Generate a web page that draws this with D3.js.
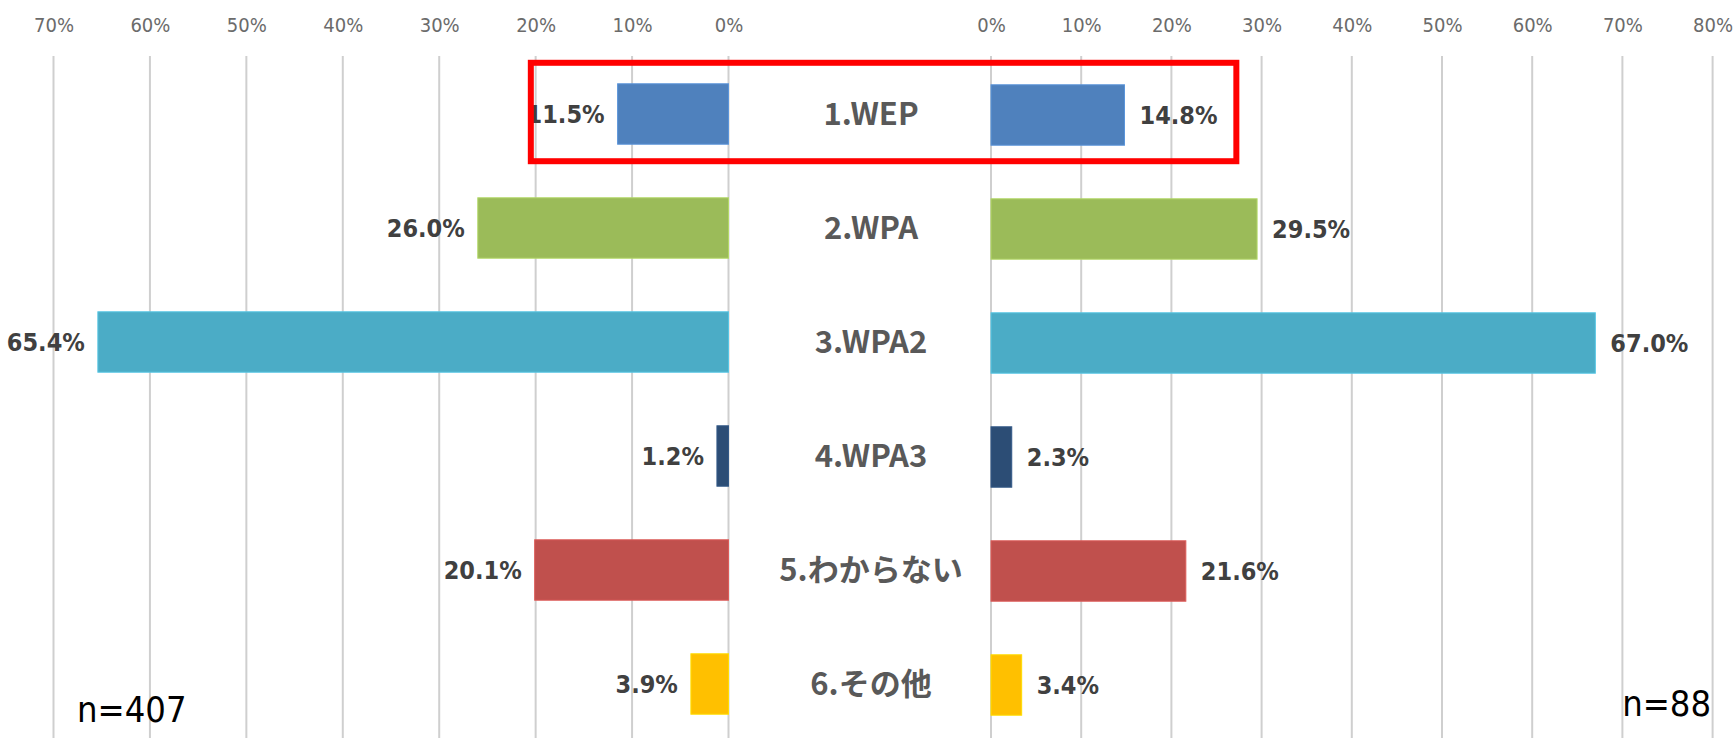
<!DOCTYPE html>
<html>
<head>
<meta charset="utf-8">
<script src="https://cdn.jsdelivr.net/npm/d3@7"></script>
<style>
  body { margin: 0; background: #fff; }
  svg { display: block; }
</style>
</head>
<body>
<svg id="chart" width="1736" height="738"></svg>
<script>
// categories and the two sides (left: n=407, right: n=88)
var categories = ["1.WEP", "2.WPA", "3.WPA2", "4.WPA3", "5.わからない", "6.その他"];
var leftValues = [0.115, 0.260, 0.654, 0.012, 0.201, 0.039];
var rightValues = [0.148, 0.295, 0.670, 0.023, 0.216, 0.034];
var barColors = ["#4f81bd", "#9bbb59", "#4bacc6", "#2c4d75", "#c0504d", "#ffc000"];
var leftTicks = [0, 0.1, 0.2, 0.3, 0.4, 0.5, 0.6, 0.7];
var rightTicks = [0, 0.1, 0.2, 0.3, 0.4, 0.5, 0.6, 0.7, 0.8];
var leftN = "n=407";
var rightN = "n=88";

var svg = d3.select("#chart");
var W = +svg.attr("width"), H = +svg.attr("height");

var numFont = "'Liberation Sans Narrow', 'DejaVu Sans Condensed', 'Noto Sans', sans-serif";
var labFont = "'Noto Sans CJK JP', 'Noto Sans', sans-serif";

var xL = d3.scaleLinear().domain([0, 0.7]).range([728.5, 53.5]);
var xR = d3.scaleLinear().domain([0, 0.8]).range([991, 1712.6]);

var y = d3.scaleBand()
    .domain(categories)
    .range([57, 741])
    .paddingInner(0.47)
    .paddingOuter(0.235);

var pct = d3.format(".0%");
var pct1 = d3.format(".1%");

// gridlines
var gridTop = 56;
svg.append("g").selectAll("line")
    .data(leftTicks)
    .enter().append("line")
    .attr("x1", d => xL(d)).attr("x2", d => xL(d))
    .attr("y1", gridTop).attr("y2", H)
    .attr("stroke", "#cfcfcf").attr("stroke-width", 2);

svg.append("g").selectAll("line")
    .data(rightTicks)
    .enter().append("line")
    .attr("x1", d => xR(d)).attr("x2", d => xR(d))
    .attr("y1", gridTop).attr("y2", H)
    .attr("stroke", "#cfcfcf").attr("stroke-width", 2);

// top axes (labels only)
function styleAxis(g) {
    g.select(".domain").remove();
    g.selectAll("text")
        .attr("fill", "#6b6b6b")
        .attr("font-family", numFont)
        .attr("font-size", 20);
}
svg.append("g")
    .attr("transform", "translate(0,34)")
    .call(d3.axisTop(xL).tickValues(leftTicks).tickFormat(pct).tickSize(0).tickPadding(2))
    .call(styleAxis);
svg.append("g")
    .attr("transform", "translate(0,34)")
    .call(d3.axisTop(xR).tickValues(rightTicks).tickFormat(pct).tickSize(0).tickPadding(2))
    .call(styleAxis);

// left bars
svg.append("g").selectAll("rect")
    .data(leftValues)
    .enter().append("rect")
    .attr("x", d => xL(d))
    .attr("y", (d, i) => y(categories[i]))
    .attr("width", d => xL(0) - xL(d))
    .attr("height", y.bandwidth())
    .attr("fill", (d, i) => barColors[i])
    .attr("stroke", (d, i) => d3.color(barColors[i]).brighter(0.4))
    .attr("stroke-width", 1);

// right bars
svg.append("g").selectAll("rect")
    .data(rightValues)
    .enter().append("rect")
    .attr("x", xR(0))
    .attr("y", (d, i) => y(categories[i]) + 1)
    .attr("width", d => xR(d) - xR(0))
    .attr("height", y.bandwidth())
    .attr("fill", (d, i) => barColors[i])
    .attr("stroke", (d, i) => d3.color(barColors[i]).brighter(0.4))
    .attr("stroke-width", 1);

// value labels
svg.append("g").selectAll("text")
    .data(leftValues)
    .enter().append("text")
    .attr("x", d => xL(d) - 13)
    .attr("y", (d, i) => y(categories[i]) + y.bandwidth() / 2)
    .attr("dy", "0.35em")
    .attr("text-anchor", "end")
    .attr("font-family", numFont)
    .attr("font-weight", "bold")
    .attr("font-size", 25)
    .attr("fill", "#404040")
    .text(d => pct1(d));

svg.append("g").selectAll("text")
    .data(rightValues)
    .enter().append("text")
    .attr("x", d => xR(d) + 15)
    .attr("y", (d, i) => y(categories[i]) + y.bandwidth() / 2 + 1)
    .attr("dy", "0.35em")
    .attr("text-anchor", "start")
    .attr("font-family", numFont)
    .attr("font-weight", "bold")
    .attr("font-size", 25)
    .attr("fill", "#404040")
    .text(d => pct1(d));

// category labels in the middle
svg.append("g").selectAll("text")
    .data(categories)
    .enter().append("text")
    .attr("x", 871)
    .attr("y", d => y(d) + y.bandwidth() / 2)
    .attr("dy", "0.36em")
    .attr("text-anchor", "middle")
    .attr("font-family", labFont)
    .attr("font-weight", "bold")
    .attr("font-size", 31)
    .attr("fill", "#595959")
    .text(d => d);

// red highlight box around the first row
var b0 = y(categories[0]);
svg.append("rect")
    .attr("x", xL(0.205))
    .attr("y", b0 - 21)
    .attr("width", xR(0.272) - xL(0.205))
    .attr("height", y.bandwidth() + 38)
    .attr("fill", "none")
    .attr("stroke", "#ff0000")
    .attr("stroke-width", 6);

// sample sizes
svg.append("text")
    .attr("x", 77).attr("y", 722)
    .attr("font-family", numFont)
    .attr("font-size", 36)
    .attr("fill", "#000")
    .text(leftN);
svg.append("text")
    .attr("x", 1711).attr("y", 716)
    .attr("text-anchor", "end")
    .attr("font-family", numFont)
    .attr("font-size", 36)
    .attr("fill", "#000")
    .text(rightN);
</script>
</body>
</html>
